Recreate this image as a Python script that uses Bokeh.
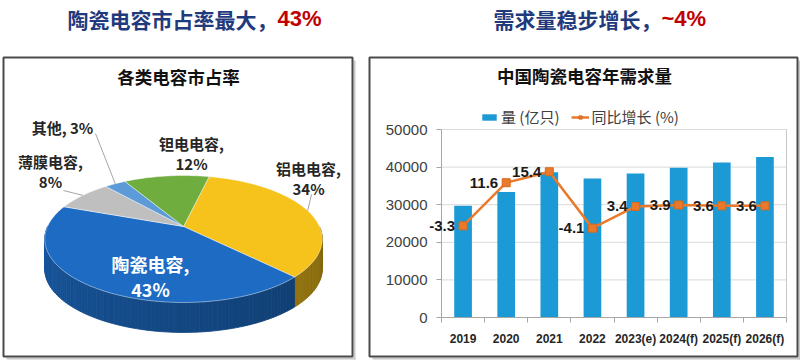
import numpy as np
from bokeh.plotting import figure
from bokeh.models import (Range1d, FixedTicker, ColumnDataSource, LabelSet, Label,
                          Legend, LegendItem, NumeralTickFormatter, LinearAxis)
from bokeh.layouts import row
from bokeh.embed import file_html
from bokeh.resources import INLINE
from bokeh.core.properties import value

# ---------------- data ----------------
share_names = ["铝电电容", "陶瓷电容", "薄膜电容", "其他", "钽电电容"]
share_values = [34, 43, 8, 3, 12]
share_colors = ["#F6C21C", "#1D6BC3", "#BFBFBF", "#5C9BD8", "#6EAD3E"]

years = ["2019", "2020", "2021", "2022", "2023(e)", "2024(f)", "2025(f)", "2026(f)"]
demand = [29700, 33400, 38600, 37000, 38300, 39800, 41200, 42700]
growth = [-3.3, 11.6, 15.4, -4.1, 3.4, 3.9, 3.6, 3.6]
y_ticks = [0, 10000, 20000, 30000, 40000, 50000]
pct_range = [-35, 30]

left_header = "陶瓷电容市占率最大，"
left_header_hl = "43%"
right_header = "需求量稳步增长，"
right_header_hl = "~4%"
pie_title = "各类电容市占率"
bar_title = "中国陶瓷电容年需求量"
legend_bar = "量 (亿只)"
legend_line = "同比增长 (%)"

# ---------------- layout / style ----------------
W_L, W_R, H = 362, 438, 360
CJK = "Noto Sans CJK SC"
LAT = "Liberation Sans"
NAVY = "#1F3A7D"
RED = "#C00000"
BOX = "#4A4A4A"
SHADOW = "#C8C8C8"

# pie geometry (canvas px)
CX, CY, RA, RB, PERSP, DEPTH = 183, 226, 136, 61, 0.197, 30
START = 77.0

# label placement for pie slices (same order as share_names)
lab_x = [308, 150, 50, 62, 191]
lab_y = [168, 263, 161, 127, 143]
two_line = [True, True, True, False, True]
inside = [False, True, False, False, False]
leader_from = [(311, 194), None, (63, 190), (95, 133), None]

# bar plot area inside right canvas (px)
PL, PR_, PT, PB = 79, 424, 129, 317


def rim(theta_deg):
    t = np.radians(theta_deg)
    f = 1.0 / (1.0 + PERSP * np.sin(t))
    return CX + RA * np.cos(t) * f, CY - RB * np.sin(t) * f


def shade(hex_color, k):
    r, g, b = (int(hex_color[i:i + 2], 16) for i in (1, 3, 5))
    return "#%02x%02x%02x" % (min(255, int(r * k)), min(255, int(g * k)), min(255, int(b * k)))


def canvas_fig(w):
    p = figure(width=w, height=H, x_range=Range1d(0, w), y_range=Range1d(H, 0),
               output_backend="svg", toolbar_location=None, min_border=0, title=None,
               x_axis_location=None, y_axis_location=None)
    p.grid.visible = False
    p.outline_line_color = None
    p.background_fill_color = "white"
    p.border_fill_color = "white"
    return p


def text_label(p, x, y, txt, size, color, font=CJK, bold=True, align="center"):
    p.add_layout(Label(x=x, y=y, text=txt, text_align=align, text_baseline="middle",
                       text_font=font, text_font_size=size,
                       text_font_style="bold" if bold else "normal", text_color=color))


def panel_box(p, l, r, t, b):
    p.quad(left=[r + 1], right=[r + 3], top=[t + 3], bottom=[b + 3],
           fill_color=SHADOW, line_color=None)
    p.quad(left=[l + 3], right=[r + 3], top=[b + 1], bottom=[b + 3],
           fill_color=SHADOW, line_color=None)
    p.quad(left=[l], right=[r], top=[t], bottom=[b], fill_alpha=0,
           line_color=BOX, line_width=2)


# ---------------- left panel: 3D pie ----------------
pl = canvas_fig(W_L)

fr = np.array(share_values, dtype=float) / sum(share_values)
starts = START - 360 * np.concatenate([[0], np.cumsum(fr)[:-1]])
ends = starts - 360 * fr

wall_xs, wall_ys, wall_cols = [], [], []
for s, e, col in zip(starts, ends, share_colors):
    n = max(2, int(abs(s - e) / 1.5) + 1)
    th = np.linspace(s, e, n)
    for t1, t2 in zip(th[:-1], th[1:]):
        tm = 0.5 * (t1 + t2)
        if np.sin(np.radians(tm)) >= 0:
            continue
        u = ((tm % 360) - 180) / 180.0
        k = 0.82 - 0.3 * u
        x1, y1 = rim(t1)
        x2, y2 = rim(t2)
        wall_xs.append([x1, x2, x2, x1])
        wall_ys.append([y1, y2, y2 + DEPTH, y1 + DEPTH])
        wall_cols.append(shade(col, k))
pl.patches(wall_xs, wall_ys, fill_color=wall_cols, line_color=wall_cols, line_width=0.8)

top_xs, top_ys = [], []
for s, e in zip(starts, ends):
    th = np.linspace(s, e, max(4, int(abs(s - e) / 1.0)))
    x, y = rim(th)
    top_xs.append([CX] + list(x))
    top_ys.append([CY] + list(y))
pl.patches(top_xs, top_ys, fill_color=share_colors, line_color="white",
           line_alpha=0.55, line_width=0.8)

mids = 0.5 * (starts + ends)
seg = dict(x0=[], y0=[], x1=[], y1=[])
for i, lf in enumerate(leader_from):
    if lf is None:
        continue
    mx, my = rim(mids[i])
    seg["x0"].append(lf[0]); seg["y0"].append(lf[1])
    seg["x1"].append(float(mx)); seg["y1"].append(float(my))
pl.segment(x0="x0", y0="y0", x1="x1", y1="y1", source=ColumnDataSource(seg),
           line_color="#A6A6A6", line_width=1)

out_l = dict(x=[], y=[], t=[])
in_l = dict(x=[], y=[], t=[])
for i, (nm, v) in enumerate(zip(share_names, share_values)):
    d, gap = (in_l, 25) if inside[i] else (out_l, 20)
    if two_line[i]:
        d["x"] += [lab_x[i], lab_x[i]]
        d["y"] += [lab_y[i], lab_y[i] + gap]
        d["t"] += [f"{nm},", f"{v}%"]
    else:
        d["x"].append(lab_x[i]); d["y"].append(lab_y[i]); d["t"].append(f"{nm}, {v}%")

pl.text(x="x", y="y", text="t", source=ColumnDataSource(out_l), text_align="center",
        text_baseline="middle", text_font=value(CJK), text_font_size="15px",
        text_font_style="bold", text_color="#262626")
pl.text(x="x", y="y", text="t", source=ColumnDataSource(in_l), text_align="center",
        text_baseline="middle", text_font=value(CJK), text_font_size="18px",
        text_font_style="bold", text_color="white")

panel_box(pl, 3, 352, 57, 356)
text_label(pl, 277, 18, left_header, "21px", NAVY, align="right")
text_label(pl, 277, 18, left_header_hl, "22px", RED, font=LAT, align="left")
text_label(pl, 178, 76, pie_title, "17.5px", "#111111")

# ---------------- right panel: bars + line ----------------
pr = canvas_fig(W_R)
n = len(years)
kx = (PR_ - PL) / n
pr.extra_x_ranges = {"cat": Range1d(-0.5 - PL / kx, n - 0.5 + (W_R - PR_) / kx)}
ky = (y_ticks[-1] - y_ticks[0]) / (PB - PT)
pr.extra_y_ranges = {
    "bars": Range1d(y_ticks[0] - (H - PB) * ky, y_ticks[-1] + PT * ky),
    "pct": Range1d(pct_range[0] - (H - PB) * (pct_range[1] - pct_range[0]) / (PB - PT),
                   pct_range[1] + PT * (pct_range[1] - pct_range[0]) / (PB - PT)),
}

xs = list(range(n))
src = ColumnDataSource(dict(x=xs, demand=demand, growth=growth,
                            glab=[f"{g:.1f}" for g in growth]))

# gridlines and right border of plot area
gl = [t for t in y_ticks if t > y_ticks[0]]
pr.segment(x0=[-0.5] * len(gl), x1=[n - 0.5] * len(gl), y0=gl, y1=gl,
           x_range_name="cat", y_range_name="bars", line_color="#D9D9D9", line_width=1)
pr.segment(x0=[n - 0.5], x1=[n - 0.5], y0=[y_ticks[0]], y1=[y_ticks[-1]],
           x_range_name="cat", y_range_name="bars", line_color="#C8C8C8", line_width=1)

bars = pr.vbar(x="x", top="demand", width=0.41, source=src,
               x_range_name="cat", y_range_name="bars",
               fill_color="#1C9AD6", line_color=None)
ln = pr.line("x", "growth", source=src, x_range_name="cat", y_range_name="pct",
             line_color="#E97A2C", line_width=2.5)
mk = pr.scatter("x", "growth", source=src, x_range_name="cat", y_range_name="pct",
                marker="square", size=8, fill_color="#E97A2C", line_color="#D8691C")

pr.add_layout(LabelSet(x="x", y="growth", text="glab", source=src,
                       x_range_name="cat", y_range_name="pct",
                       x_offset=-8, text_align="right", text_baseline="middle",
                       text_font=value(LAT), text_font_style="bold",
                       text_font_size="15px", text_color="#1A1A1A"))

xa = LinearAxis(x_range_name="cat", y_range_name="bars", fixed_location=y_ticks[0],
                bounds=(-0.5, n - 0.5),
                ticker=FixedTicker(ticks=xs, minor_ticks=[i - 0.5 for i in range(n + 1)]))
xa.major_label_overrides = {i: y for i, y in enumerate(years)}
xa.major_tick_out = 0
xa.major_tick_in = 0
xa.minor_tick_out = 5
xa.minor_tick_in = 0
xa.minor_tick_line_color = "#A6A6A6"
xa.axis_line_color = "#A6A6A6"
xa.major_label_standoff = 9
xa.major_label_text_font = LAT
xa.major_label_text_font_style = "bold"
xa.major_label_text_font_size = "12px"
xa.major_label_text_color = "#262626"
pr.add_layout(xa, "below")

ya = LinearAxis(x_range_name="cat", y_range_name="bars", fixed_location=-0.5,
                bounds=(y_ticks[0], y_ticks[-1]), ticker=FixedTicker(ticks=y_ticks),
                formatter=NumeralTickFormatter(format="0"))
ya.major_tick_out = 5
ya.major_tick_in = 0
ya.minor_tick_out = 0
ya.minor_tick_in = 0
ya.major_tick_line_color = "#A6A6A6"
ya.axis_line_color = "#A6A6A6"
ya.major_label_standoff = 9
ya.major_label_text_font = LAT
ya.major_label_text_font_size = "15px"
ya.major_label_text_color = "#404040"
pr.add_layout(ya, "left")

legend = Legend(items=[LegendItem(label=legend_bar, renderers=[bars]),
                       LegendItem(label=legend_line, renderers=[ln, mk])],
                location=(118, H - 127), orientation="horizontal",
                border_line_color=None, background_fill_alpha=0,
                padding=2, margin=0, spacing=11, label_standoff=3,
                glyph_width=18, glyph_height=8,
                label_text_font=CJK, label_text_font_size="15px",
                label_text_color="#404040")
pr.add_layout(legend)

panel_box(pr, 7, 435, 57, 356)
text_label(pr, 299, 18, right_header, "21px", NAVY, align="right")
text_label(pr, 299, 18, right_header_hl, "22px", RED, font=LAT, align="left")
text_label(pr, 222, 75, bar_title, "17.5px", "#111111")

layout = row(pl, pr)
open("out.html", "w").write(file_html(layout, INLINE))
